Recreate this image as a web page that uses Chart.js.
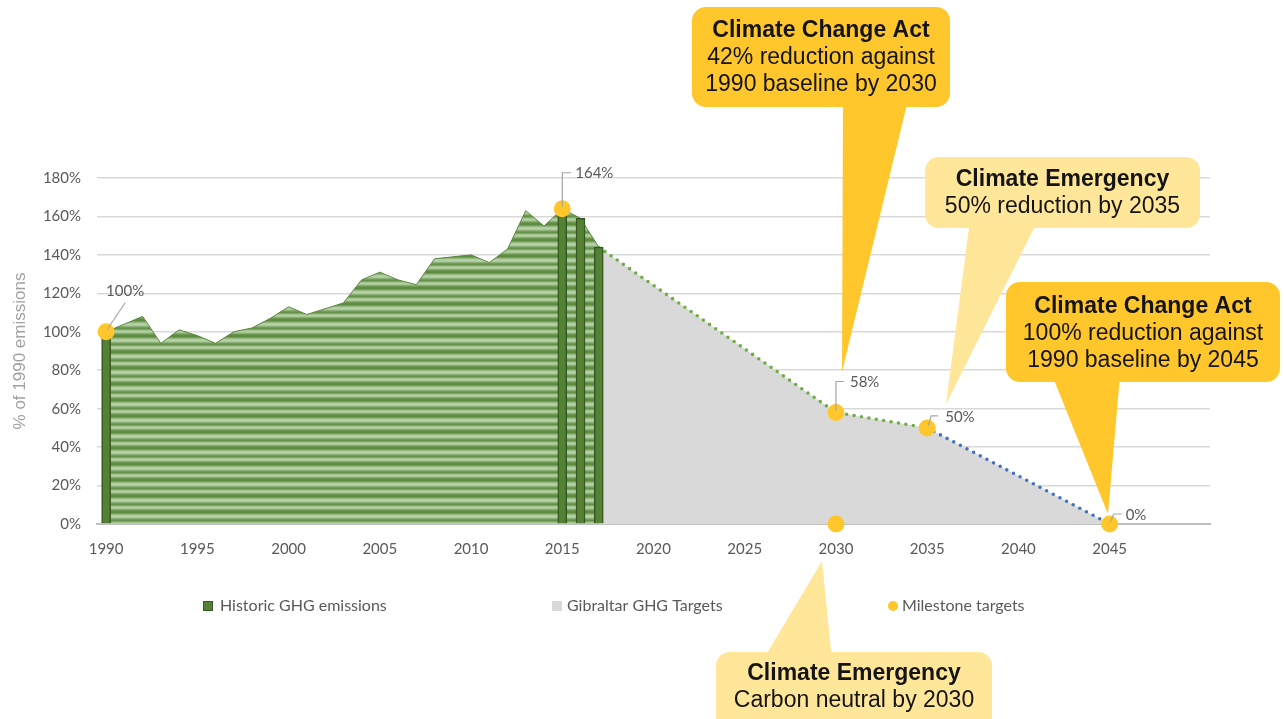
<!DOCTYPE html>
<html><head><meta charset="utf-8">
<script src="https://cdn.jsdelivr.net/npm/chart.js@4.4.1/dist/chart.umd.min.js"></script>
<style>html,body{margin:0;padding:0;background:#fff;}#wrap{width:1284px;height:719px;position:relative}</style>
</head><body><div id="wrap"><canvas id="c" width="1284" height="719"></canvas></div>
<script>
// ---------- DATA ----------
const categories = ['1990','1991','1992','1993','1994','1995','1996','1997','1998','1999',
  '2000','2001','2002','2003','2004','2005','2006','2007','2008','2009',
  '2010','2011','2012','2013','2014','2015','2016','2017','2018','2019',
  '2020','2021','2022','2023','2024','2025','2026','2027','2028','2029',
  '2030','2031','2032','2033','2034','2035','2036','2037','2038','2039',
  '2040','2041','2042','2043','2044','2045','2046','2047','2048','2049','2050'];
const tickYears = ['1990','1995','2000','2005','2010','2015','2020','2025','2030','2035','2040','2045'];

const historicYears = ['1990','1991','1992','1993','1994','1995','1996','1997','1998','1999',
  '2000','2001','2002','2003','2004','2005','2006','2007','2008','2009',
  '2010','2011','2012','2013','2014','2015','2016','2017'];
const historicValues = [100,104,108,94,101,98,94,100,102,107,
  113,109,112,115,127,131,127,124.5,138,139,
  140,136,143,163,155,164,159,144];

const barYears = ['1990','2015','2016','2017'];
const barValues = [100,164,159,144];

const targetYears = ['2017','2030','2035','2045'];
const targetValues = [144,58,50,0];

const climateActYears = ['2017','2030','2035'];
const climateActValues = [144,58,50];
const emergencyYears = ['2035','2045'];
const emergencyValues = [50,0];

const milestoneYears = ['1990','2015','2030','2035','2045','2030'];
const milestoneValues = [100,164,58,50,0,0];
const milestoneLabels = ['100%','164%','58%','50%','0%',''];

const legendLabels = ['Historic GHG emissions','Gibraltar GHG Targets','Milestone targets'];

// ---------- helpers ----------
const pts = (xs, ys) => xs.map((x, i) => ({x: x, y: ys[i]}));

const canvas = document.getElementById('c');
const mainCtx = canvas.getContext('2d');
const pc = document.createElement('canvas'); pc.width = 4; pc.height = 16;
const pctx = pc.getContext('2d');
const stripes = ['#5c8a40','#74a05a','#94b880','#aecb9c','#b8d3a8','#a9c897','#8db37a','#6f9b55',
                 '#668f49','#7fa867','#a0c28c','#b4d0a3','#a6c694','#88ae72','#6c9751','#5f8b44'];
stripes.forEach((c, i) => { pctx.fillStyle = c; pctx.fillRect(0, i, 4, 1); });
const greenPattern = mainCtx.createPattern(pc, 'repeat');

const GOLD = '#FFC72C', LIGHT = '#FFE699', TXT = '#595959';

const overlay = {
  id: 'overlay',
  afterDatasetsDraw(chart) {
    const ctx = chart.ctx;
    const meta = chart.getDatasetMeta(0);
    const specs = [
      {type:'diag', dx1:19, dy1:-29, tx:19, ty:-41, align:'center'},
      {type:'hook', up:-36, hx:9, tx:13, ty:-36},
      {type:'hook', up:-31, hx:8, tx:14, ty:-30},
      {type:'bent', ax:4, ay:-12, hx:11, tx:18, ty:-11},
      {type:'bent', ax:4, ay:-10, hx:12, tx:16, ty:-9},
      null
    ];
    ctx.save();
    ctx.strokeStyle = '#A6A6A6'; ctx.lineWidth = 1.2;
    ctx.fillStyle = TXT; ctx.font = '15px Lato'; ctx.textBaseline = 'middle';
    meta.data.forEach((el, i) => {
      const s = specs[i]; if (!s) return;
      const px = el.x, py = el.y;
      ctx.beginPath();
      if (s.type === 'diag') {
        ctx.moveTo(px + 1, py - 2); ctx.lineTo(px + s.dx1, py + s.dy1);
      } else if (s.type === 'hook') {
        ctx.moveTo(px, py - 2); ctx.lineTo(px, py + s.up); ctx.lineTo(px + s.hx, py + s.up);
      } else {
        ctx.moveTo(px + 1, py - 2); ctx.lineTo(px + s.ax, py + s.ay); ctx.lineTo(px + s.hx, py + s.ay);
      }
      ctx.stroke();
      ctx.textAlign = s.align || 'left';
      ctx.fillText(milestoneLabels[i], px + s.tx, py + s.ty);
    });
    ctx.restore();
  },
  afterDraw(chart) {
    const ctx = chart.ctx;
    ctx.save();
    // legend
    const ly = 606;
    ctx.font = '16px Lato'; ctx.fillStyle = TXT; ctx.textBaseline = 'middle'; ctx.textAlign = 'left';
    ctx.fillStyle = '#548235'; ctx.fillRect(203, 601, 10, 10);
    ctx.strokeStyle = '#375623'; ctx.lineWidth = 1; ctx.strokeRect(203.5, 601.5, 9, 9);
    ctx.fillStyle = TXT; ctx.fillText(legendLabels[0], 220, ly);
    ctx.fillStyle = '#D9D9D9'; ctx.fillRect(552, 601, 10, 10);
    ctx.fillStyle = TXT; ctx.fillText(legendLabels[1], 567, ly);
    ctx.fillStyle = GOLD; ctx.beginPath(); ctx.arc(893, ly, 5, 0, Math.PI * 2); ctx.fill();
    ctx.fillStyle = TXT; ctx.fillText(legendLabels[2], 902, ly);

    function callout(box, tri, fill, lines, lineYs) {
      ctx.fillStyle = fill;
      ctx.beginPath(); ctx.roundRect(box[0], box[1], box[2], box[3], 14); ctx.fill();
      ctx.beginPath(); ctx.moveTo(tri[0], tri[1]); ctx.lineTo(tri[2], tri[3]); ctx.lineTo(tri[4], tri[5]); ctx.closePath(); ctx.fill();
      ctx.fillStyle = '#141414'; ctx.textAlign = 'center'; ctx.textBaseline = 'middle';
      const cx = box[0] + box[2] / 2;
      lines.forEach((t, i) => {
        ctx.font = (i === 0 ? 'bold ' : '') + '23px "Liberation Sans", Arial, sans-serif';
        ctx.fillText(t, cx, lineYs[i]);
      });
    }
    callout([692, 7, 258, 100], [843, 100, 908, 100, 842, 372], GOLD,
      ['Climate Change Act', '42% reduction against', '1990 baseline by 2030'], [31, 58, 85]);
    callout([925, 157, 275, 71], [970, 220, 1038, 220, 946, 404], LIGHT,
      ['Climate Emergency', '50% reduction by 2035'], [180, 207]);
    callout([1006, 282, 274, 100], [1052, 375, 1120, 375, 1108, 514], GOLD,
      ['Climate Change Act', '100% reduction against', '1990 baseline by 2045'], [307, 334, 361]);
    callout([716, 652, 276, 80], [763, 660, 832, 660, 822, 561], LIGHT,
      ['Climate Emergency', 'Carbon neutral by 2030'], [674, 701]);
    ctx.restore();
  }
};

Chart.defaults.font.family = 'Lato';
Chart.defaults.color = TXT;

new Chart(canvas, {
  type: 'bar',
  data: {
    labels: categories,
    datasets: [
      { type: 'line', label: 'Milestone targets', data: pts(milestoneYears, milestoneValues),
        showLine: false, pointRadius: 8.5, pointHoverRadius: 8.5, pointBackgroundColor: GOLD,
        pointBorderWidth: 0, clip: false, order: 0 },
      { type: 'bar', label: 'Historic GHG emissions', data: pts(barYears, barValues),
        backgroundColor: '#548235', borderColor: '#375623', borderWidth: 1.5,
        barThickness: 9, order: 1 },
      { type: 'line', label: 'Climate Change Act path', data: pts(climateActYears, climateActValues),
        borderColor: '#70AD47', borderWidth: 3.6, borderDash: [0, 7.5], borderCapStyle: 'round',
        pointRadius: 0, fill: false, tension: 0, order: 2 },
      { type: 'line', label: 'Climate Emergency path', data: pts(emergencyYears, emergencyValues),
        borderColor: '#4472C4', borderWidth: 3.6, borderDash: [0, 7.5], borderCapStyle: 'round',
        pointRadius: 0, fill: false, tension: 0, order: 2 },
      { type: 'line', label: 'Historic area', data: pts(historicYears, historicValues),
        borderColor: '#5a883e', borderWidth: 1, backgroundColor: greenPattern,
        fill: 'origin', pointRadius: 0, tension: 0, order: 3 },
      { type: 'line', label: 'Gibraltar GHG Targets', data: pts(targetYears, targetValues),
        borderWidth: 0, borderColor: 'rgba(0,0,0,0)', backgroundColor: '#D9D9D9',
        fill: 'origin', pointRadius: 0, tension: 0, order: 4 }
    ]
  },
  options: {
    responsive: false, animation: false,
    layout: { padding: { top: 178, left: 0, right: 74, bottom: 145 } },
    plugins: { legend: { display: false }, tooltip: { enabled: false } },
    scales: {
      x: {
        offset: true,
        grid: { display: false, drawTicks: false },
        border: { color: '#BFBFBF', width: 2 },
        ticks: {
          autoSkip: false, maxRotation: 0, padding: 16, color: TXT, font: { size: 15 },
          callback: function (v, i) { const l = this.getLabelForValue(v); return tickYears.includes(l) ? l : ''; }
        }
      },
      y: {
        min: 0, max: 180,
        afterFit: (s) => { s.width = 97; },
        grid: { color: '#D9D9D9', lineWidth: 1.5, drawTicks: false },
        border: { display: false },
        ticks: { stepSize: 20, padding: 16, color: TXT, font: { size: 15 }, callback: v => v + '%' },
        title: { display: true, text: '% of 1990 emissions', color: '#A0A0A0',
          font: { family: '"Liberation Sans", Arial, sans-serif', size: 17 }, padding: { top: 10, bottom: 0 } }
      }
    }
  },
  plugins: [overlay]
});
</script>
</body></html>
